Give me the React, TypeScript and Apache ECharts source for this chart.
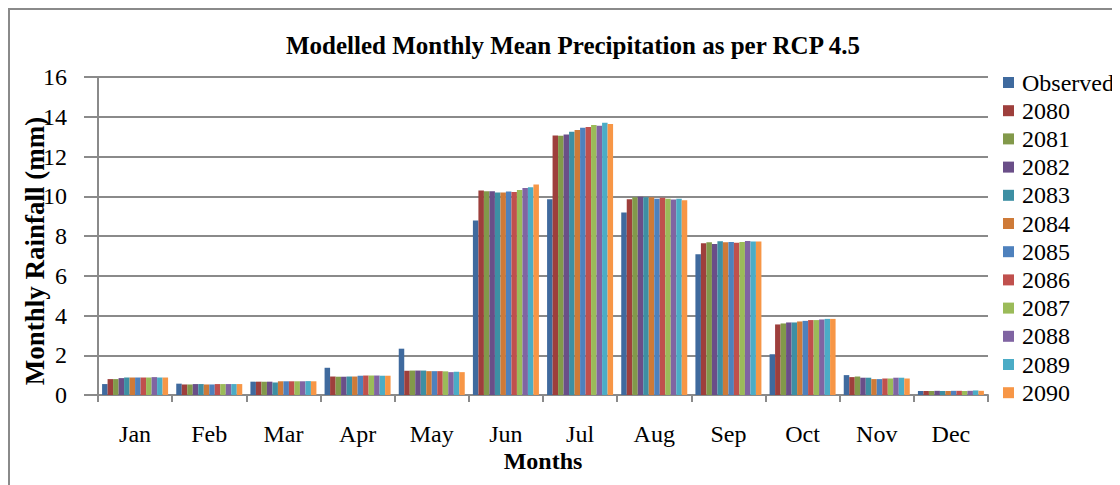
import React, { useEffect, useRef } from "react";
import * as echarts from "echarts";

const months = ["Jan", "Feb", "Mar", "Apr", "May", "Jun", "Jul", "Aug", "Sep", "Oct", "Nov", "Dec"];
const seriesNames = ["Observed", "2080", "2081", "2082", "2083", "2084", "2085", "2086", "2087", "2088", "2089", "2090"];
const colors = ["#3F6A9E", "#9E3F3C", "#82994A", "#6A4E88", "#3D8FA3", "#CE7A38", "#4E81BD", "#C0504D", "#9BBB59", "#8064A2", "#4BACC6", "#F79646"];

const observed = [0.55, 0.57, 0.67, 1.37, 2.33, 8.78, 9.85, 9.18, 7.08, 2.05, 1.0, 0.2];
const y2080 = [0.8, 0.53, 0.67, 0.93, 1.22, 10.29, 13.06, 9.85, 7.63, 3.55, 0.9, 0.2];
const y2081 = [0.8, 0.53, 0.67, 0.92, 1.23, 10.25, 13.04, 9.95, 7.68, 3.6, 0.93, 0.2];
const y2082 = [0.85, 0.55, 0.67, 0.92, 1.23, 10.25, 13.11, 9.98, 7.6, 3.65, 0.87, 0.21];
const y2083 = [0.88, 0.55, 0.63, 0.93, 1.23, 10.19, 13.24, 9.95, 7.73, 3.65, 0.87, 0.2];
const y2084 = [0.88, 0.53, 0.69, 0.93, 1.2, 10.19, 13.33, 9.95, 7.68, 3.7, 0.8, 0.2];
const y2085 = [0.88, 0.53, 0.69, 0.97, 1.2, 10.24, 13.45, 9.87, 7.7, 3.73, 0.8, 0.21];
const y2086 = [0.88, 0.55, 0.69, 0.98, 1.2, 10.22, 13.48, 9.92, 7.66, 3.77, 0.83, 0.21];
const y2087 = [0.88, 0.55, 0.69, 0.98, 1.19, 10.32, 13.58, 9.87, 7.7, 3.77, 0.83, 0.2];
const y2088 = [0.9, 0.55, 0.69, 0.98, 1.15, 10.42, 13.55, 9.84, 7.75, 3.8, 0.87, 0.21];
const y2089 = [0.88, 0.55, 0.7, 0.97, 1.17, 10.45, 13.7, 9.87, 7.72, 3.83, 0.87, 0.23];
const y2090 = [0.88, 0.55, 0.69, 0.97, 1.15, 10.59, 13.63, 9.8, 7.72, 3.83, 0.83, 0.21];

const allValues = [observed, y2080, y2081, y2082, y2083, y2084, y2085, y2086, y2087, y2088, y2089, y2090];

const FONT = "'Times New Roman', 'Liberation Serif', serif";

const LEGEND_LEFT = 990;
const LEGEND_TOP = 64;
const LEGEND_ICON = 11;
const LEGEND_STEP = 28.2;

export default function App() {
  const ref = useRef<HTMLDivElement>(null);
  useEffect(() => {
    if (!ref.current) return;
    const chart = echarts.init(ref.current, null, { renderer: "svg" });
    const legendLabels = seriesNames.map((n, i) => ({
      type: "text",
      left: LEGEND_LEFT + 5 + LEGEND_ICON + 8,
      top: LEGEND_TOP + 5 + LEGEND_ICON / 2 + i * LEGEND_STEP - 12,
      silent: true,
      style: { text: n, font: "normal 400 24px 'Liberation Serif', serif", fill: "#000" },
    }));
    chart.setOption({
      animation: false,
      backgroundColor: "#ffffff",
      textStyle: { fontFamily: FONT },
      title: {
        text: "Modelled Monthly Mean Precipitation as per RCP 4.5",
        left: 560,
        top: 20,
        textAlign: "center",
        textStyle: { fontFamily: FONT, fontSize: 25, fontWeight: "bold", color: "#000" },
      },
      graphic: [
        {
          type: "rect",
          shape: { x: 1, y: 1, width: 1300, height: 700 },
          style: { fill: "none", stroke: "#8a8a8a", lineWidth: 2 },
          silent: true,
        },
        ...legendLabels,
      ],
      legend: {
        orient: "vertical",
        left: LEGEND_LEFT,
        top: LEGEND_TOP,
        itemWidth: LEGEND_ICON,
        itemHeight: LEGEND_ICON,
        itemGap: LEGEND_STEP - LEGEND_ICON,
        icon: "rect",
        selectedMode: false,
        formatter: () => "",
        textStyle: { fontSize: 1, lineHeight: 1 },
        data: seriesNames,
      },
      grid: { left: 90, right: 132, top: 69, height: 318, outerBoundsMode: "none", containLabel: false },
      xAxis: {
        type: "category",
        data: months,
        name: "Months",
        nameLocation: "middle",
        nameGap: 54,
        nameMoveOverlap: false,
        nameTextStyle: { fontFamily: FONT, fontSize: 24, fontWeight: "bold", color: "#000" },
        axisLine: { lineStyle: { color: "#8a8a8a", width: 2 } },
        axisTick: { show: true, length: 7, lineStyle: { color: "#8a8a8a", width: 2 } },
        axisLabel: { fontFamily: FONT, fontSize: 24, color: "#000", margin: 27 },
      },
      yAxis: {
        type: "value",
        min: 0,
        max: 16,
        interval: 2,
        name: "Monthly Rainfall (mm)",
        nameLocation: "middle",
        nameGap: 50,
        nameMoveOverlap: false,
        nameTextStyle: { fontFamily: FONT, fontSize: 27, fontWeight: "bold", color: "#000", padding: [0, 30, 0, 0] },
        axisLine: { show: true, lineStyle: { color: "#8a8a8a", width: 2 } },
        axisTick: { show: true, length: 14, lineStyle: { color: "#8a8a8a", width: 2 } },
        axisLabel: { fontFamily: FONT, fontSize: 24, color: "#000", margin: 31 },
        splitLine: { lineStyle: { color: "#8a8a8a", width: 2 } },
      },
      series: seriesNames.map((name, i) => ({
        name,
        type: "bar",
        data: allValues[i],
        barGap: "0%",
        barCategoryGap: "11%",
        itemStyle: { color: colors[i] },
      })),
    });
    return () => chart.dispose();
  }, []);
  return <div ref={ref} style={{ width: 1112, height: 477 }} />;
}
